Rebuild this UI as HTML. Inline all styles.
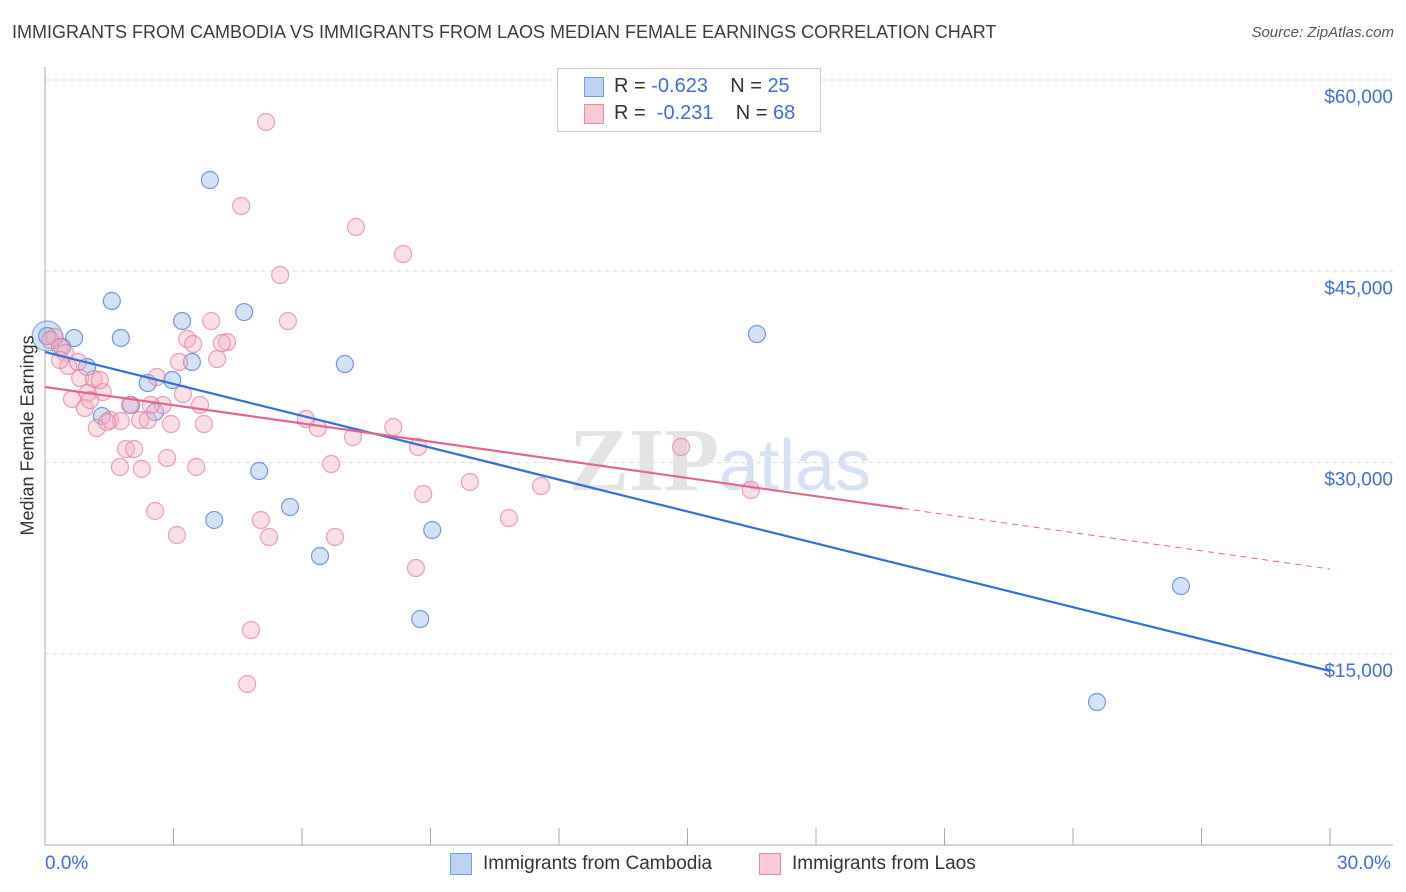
<!DOCTYPE html>
<html><head><meta charset="utf-8"><style>
body{margin:0;background:#fff;font-family:"Liberation Sans",sans-serif;}
#wrap{position:relative;width:1406px;height:892px;overflow:hidden;}
.t{position:absolute;white-space:nowrap;}
</style></head><body>
<div id="wrap">
<div class="t" style="left:12px;top:22px;font-size:18px;color:#3c3c3c;">IMMIGRANTS FROM CAMBODIA VS IMMIGRANTS FROM LAOS MEDIAN FEMALE EARNINGS CORRELATION CHART</div>
<div class="t" style="right:12px;top:24px;font-size:15px;color:#555;font-style:italic;">Source: ZipAtlas.com</div>
<svg id="svg" width="1406" height="892" style="position:absolute;left:0;top:0"></svg>
</div>
<script>
const camX=[0.05,0.68,0.40,1.56,1.77,0.98,1.33,2.01,2.40,2.57,2.97,3.20,3.43,3.85,3.95,4.65,5.00,5.72,6.42,7.00,8.76,9.04,16.62,26.52,24.56];
const camY=[39920,39765,39060,42666,39765,37490,33647,34510,36235,33960,36470,41100,37880,52156,25490,41800,29333,26510,22666,37725,17725,24705,40078,20313,11215];
const laoX=[5.16,4.58,7.26,8.36,5.49,3.88,5.67,3.32,4.25,4.13,3.46,4.02,3.13,0.23,0.12,0.35,0.47,0.54,0.77,0.82,1.14,1.00,1.35,0.63,0.93,2.61,2.75,3.22,3.62,2.47,1.98,1.52,1.21,1.77,2.22,2.40,2.94,3.71,6.09,6.37,7.19,8.13,8.71,6.68,1.89,2.08,1.75,2.26,2.85,3.53,2.57,3.08,5.04,5.23,6.77,8.83,9.92,10.83,11.58,14.85,16.48,8.66,4.81,4.72,1.05,1.45,0.35,1.28];
const laoY=[56705,50117,48470,46352,44705,41097,41097,39686,39450,39372,39293,38117,37882,39842,39607,39058,38588,37568,37882,36627,36548,35450,35529,34980,34274,36705,34509,35372,34509,34509,34509,33333,32705,33254,33333,33333,33019,33019,33411,32705,32000,32784,31215,29882,31058,31058,29647,29490,30352,29647,26196,24313,25490,24156,24156,27529,28470,25646,28156,31215,27843,21725,16862,12627,34901,33176,38039,36470];
const camTrend=[38666,13647];
const laoTrend=[35921,21647];
const laoSolidEnd=20.03;
const yTicks=[15000,30000,45000,60000];
const yTickLabels=["$15,000","$30,000","$45,000","$60,000"];
const xTicks=[0,3,6,9,12,15,18,21,24,27,30];

const X=p=>45+p*(1285/30);
const Y=v=>845-v*(765/60000);
const svg=document.getElementById('svg');
const NS='http://www.w3.org/2000/svg';
function mk(tag,at){const e=document.createElementNS(NS,tag);for(const k in at)e.setAttribute(k,at[k]);svg.appendChild(e);return e;}

yTicks.forEach((v,i)=>{
 const g=mk('line',{x1:45,x2:1393,y1:Y(v),y2:Y(v),stroke:'#ddd','stroke-dasharray':'4,4'});
 
 
 const t=mk('text',{x:1393,y:Y(v)+23,'text-anchor':'end','font-size':19,fill:'#3f6fd6','font-family':'Liberation Sans, sans-serif'});
 t.textContent=yTickLabels[i];
 
 
});
let ax=mk('line',{x1:45,x2:45,y1:67,y2:845,stroke:'#aaa'});


ax=mk('line',{x1:45,x2:1393,y1:845,y2:845,stroke:'#aaa'});


xTicks.forEach(p=>{
 const l=mk('line',{x1:X(p),x2:X(p),y1:828,y2:845,stroke:'#aaa'});
 
 
});
let wm=mk('text',{x:720,y:490,'text-anchor':'middle','font-size':90,fill:'#e8e8e8','font-family':'Liberation Serif, serif'});
wm.innerHTML='<tspan fill="#e4e4e4" font-weight="bold">ZIP</tspan><tspan fill="#d6e2f4" font-family="Liberation Sans, sans-serif" font-size="72">atlas</tspan>';



let big=mk('circle',{cx:X(0.05),cy:Y(39920),r:15,fill:'rgba(160,190,235,0.45)',stroke:'rgba(90,140,220,0.7)','stroke-width':1.2});


camX.forEach((x,i)=>{
 const c=mk('circle',{cx:X(x),cy:Y(camY[i]),r:8.5,fill:'rgba(160,190,235,0.45)',stroke:'rgba(80,130,215,0.8)','stroke-width':1.2});
 
 
});
laoX.forEach((x,i)=>{
 const c=mk('circle',{cx:X(x),cy:Y(laoY[i]),r:8.5,fill:'rgba(245,175,195,0.4)',stroke:'rgba(230,120,155,0.7)','stroke-width':1.2});
 
 
});
let tl=mk('line',{x1:X(0),y1:Y(camTrend[0]),x2:X(30),y2:Y(camTrend[1]),stroke:'#2f6fd8','stroke-width':2.2});


const ly=p=>laoTrend[0]+(laoTrend[1]-laoTrend[0])*p/30;
tl=mk('line',{x1:X(0),y1:Y(ly(0)),x2:X(laoSolidEnd),y2:Y(ly(laoSolidEnd)),stroke:'#e4668f','stroke-width':2.2});


tl=mk('line',{x1:X(laoSolidEnd),y1:Y(ly(laoSolidEnd)),x2:X(30),y2:Y(ly(30)),stroke:'#e4668f','stroke-width':1,'stroke-dasharray':'6,5'});


</script>
<div class="t" style="left:-52px;top:445px;font-size:18px;color:#333;transform:rotate(-90deg);width:160px;text-align:center;">Median Female Earnings</div>
<div class="t" style="left:45px;top:853px;font-size:19px;color:#3f6fd6;">0.0%</div>
<div class="t" style="left:1337px;top:853px;font-size:19px;color:#3f6fd6;">30.0%</div>
<div style="position:absolute;left:557px;top:68px;width:262px;height:62px;border:1px solid #ccc;background:#fff;font-size:20px;">
 <div style="position:absolute;left:26px;top:8px;width:18px;height:18px;background:#bcd3f5;border:1px solid #6d9ae0;"></div>
 <div class="t" style="left:56px;top:6px;color:#333;">R = <span style="color:#3f6fd6">-0.623</span>&nbsp;&nbsp;&nbsp; N = <span style="color:#3f6fd6">25</span></div>
 <div style="position:absolute;left:26px;top:35px;width:18px;height:18px;background:#f9c9d6;border:1px solid #e88aa8;"></div>
 <div class="t" style="left:56px;top:33px;color:#333;">R = &nbsp;<span style="color:#3f6fd6">-0.231</span>&nbsp;&nbsp;&nbsp; N = <span style="color:#3f6fd6">68</span></div>
</div>
<div style="position:absolute;left:450px;top:853px;font-size:19px;color:#333;">
 <div style="position:absolute;left:0;top:0;width:300px;"><span style="position:absolute;left:0;top:0;width:20px;height:20px;background:#bcd3f5;border:1px solid #6d9ae0;"></span><span style="position:absolute;left:33px;top:0;white-space:nowrap;">Immigrants from Cambodia</span></div>
 <div style="position:absolute;left:309px;top:0;width:300px;"><span style="position:absolute;left:0;top:0;width:20px;height:20px;background:#f9c9d6;border:1px solid #e88aa8;"></span><span style="position:absolute;left:33px;top:0;white-space:nowrap;">Immigrants from Laos</span></div>
</div>
</body></html>
